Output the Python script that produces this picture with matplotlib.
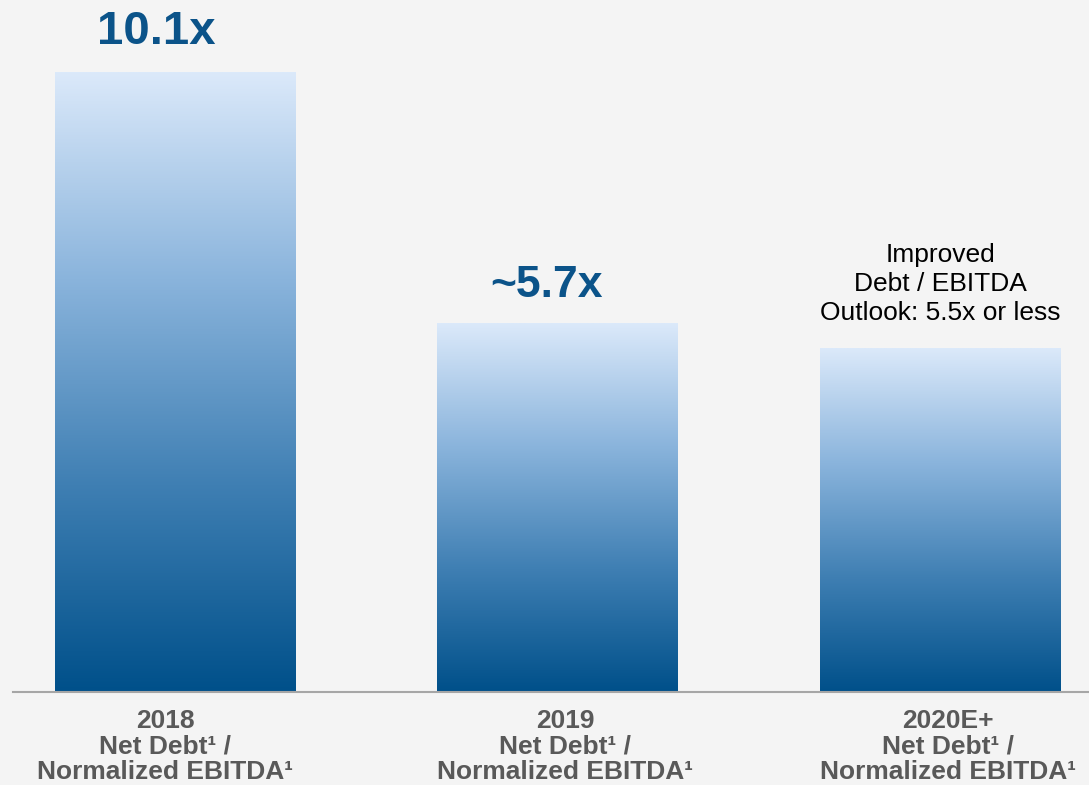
import numpy as np
import matplotlib.pyplot as plt
from matplotlib.colors import LinearSegmentedColormap

# =====================================================
# Data
# =====================================================

categories = [
    "2018\nNet Debt¹ /\nNormalized EBITDA¹",
    "2019\nNet Debt¹ /\nNormalized EBITDA¹",
    "2020E+\nNet Debt¹ /\nNormalized EBITDA¹",
]

bar_heights = [10.1, 6.0, 5.6]

value_labels = ["10.1x", "~5.7x", "Improved\nDebt / EBITDA\nOutlook: 5.5x or less"]

# =====================================================
# Style
# =====================================================

bg = "#f4f4f4"
dark_blue = "#00508a"
light_blue = "#dbe9fa"

grad = LinearSegmentedColormap.from_list(
    "bar_grad",
    [dark_blue, "#3f7fb3", "#8ab4dc", light_blue]
)

W, H = 1089, 785

fig = plt.figure(figsize=(W / 100, H / 100), dpi=100, facecolor=bg)

ax = fig.add_axes([0, 1 - 692 / H, 1, 692 / H])
ax.set_facecolor(bg)

spacing = 382.5
bar_w = 241 / spacing

# gradient bars
for i, h in enumerate(bar_heights):
    g = np.linspace(0, 1, 256).reshape(-1, 1)
    ax.imshow(
        g,
        cmap=grad,
        aspect="auto",
        origin="lower",
        extent=[i - bar_w / 2, i + bar_w / 2, 0, h],
        zorder=2
    )

ax.set_xlim(-175 / spacing, (W - 175) / spacing)
ax.set_ylim(0, 10.1 * 692 / 620)

for s in ax.spines.values():
    s.set_visible(False)
ax.set_xticks([])
ax.set_yticks([])

# baseline
ax.axhline(0, xmin=13 / W, xmax=1, color="#a6a6a6", lw=1.5, zorder=3, clip_on=False)

# value labels
ax.text(-0.05, bar_heights[0] + 0.29, value_labels[0],
        ha="center", va="bottom", fontsize=34, fontweight="bold",
        color="#0b5389", family="Liberation Sans")
ax.text(0.97, bar_heights[1] + 0.29, value_labels[1],
        ha="center", va="bottom", fontsize=32, fontweight="bold",
        color="#0b5389", family="Liberation Sans")
ax.text(2, bar_heights[2] + 0.38, value_labels[2],
        ha="center", va="bottom", fontsize=19, linespacing=1.25,
        color="black", family="Liberation Sans")

# category labels
cat_x = [-0.025, 1.02, 2.02]
for i, lab in enumerate(categories):
    ax.text(cat_x[i], -0.27, lab,
            ha="center", va="top", fontsize=19, fontweight="bold",
            linespacing=1.1, color="#595959", family="Liberation Sans")

fig.savefig("out.png", dpi=100, facecolor=bg)
